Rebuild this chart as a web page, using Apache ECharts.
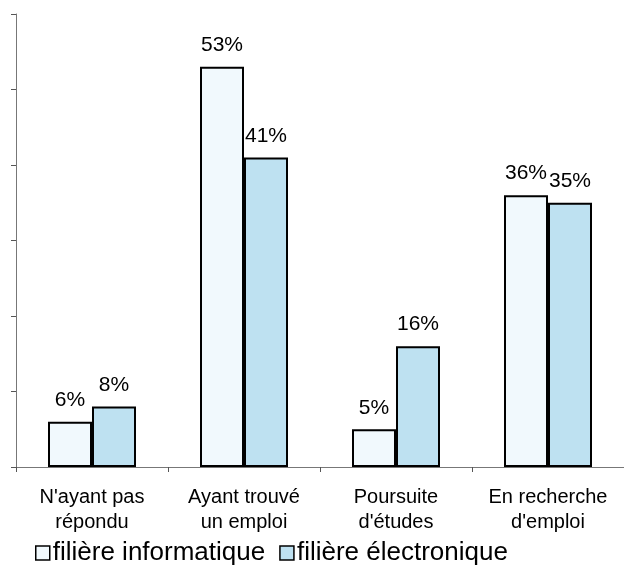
<!DOCTYPE html>
<html>
<head>
<meta charset="utf-8">
<script src="https://cdn.jsdelivr.net/npm/echarts@6/dist/echarts.min.js"></script>
<style>html,body{margin:0;padding:0;background:#fff;}#c{width:624px;height:569px;}</style>
</head>
<body>
<div id="c"></div>
<script>
const categories = ["N'ayant pas\nrépondu", "Ayant trouvé\nun emploi", "Poursuite\nd'études", "En recherche\nd'emploi"];
const seriesNames = ["filière informatique", "filière électronique"];
const informatique = [6, 53, 5, 36];
const electronique = [8, 41, 16, 35];
const yTicks = [0, 10, 20, 30, 40, 50, 60];

const font = "'Liberation Sans', Arial, sans-serif";
const chart = echarts.init(document.getElementById('c'));
const labelCfg = {show: true, position: 'top', distance: 11, fontSize: 21, color: '#000', fontFamily: font, formatter: '{c}%'};
chart.setOption({
  animation: false,
  grid: {left: 16, width: 614, top: 14, height: 453, containLabel: false},
  legend: {
    data: seriesNames, left: 30, top: 535, icon: 'rect', itemWidth: 14, itemHeight: 14, itemGap: 14,
    textStyle: {fontSize: 26, color: '#000', fontFamily: font, padding: [0, 0, 0, -2]},
    itemStyle: {borderColor: '#000', borderWidth: 1.5}
  },
  xAxis: {
    type: 'category', data: categories,
    axisLine: {lineStyle: {color: '#777', width: 1}},
    axisTick: {show: true, length: 5, lineStyle: {color: '#555'}},
    axisLabel: {fontSize: 20, lineHeight: 25, color: '#000', fontFamily: font, margin: 18, interval: 0}
  },
  yAxis: {
    type: 'value', min: yTicks[0], max: yTicks[yTicks.length - 1], interval: 10,
    axisLine: {show: true, lineStyle: {color: '#777', width: 1}},
    axisTick: {show: true, length: 5, lineStyle: {color: '#555'}},
    axisLabel: {show: false},
    splitLine: {show: false}
  },
  series: [
    {name: seriesNames[0], type: 'bar', data: informatique, barWidth: 44, barGap: '0%',
     itemStyle: {color: '#F1F9FD', borderColor: '#000', borderWidth: 2}, label: labelCfg},
    {name: seriesNames[1], type: 'bar', data: electronique, barWidth: 44, barGap: '0%',
     itemStyle: {color: '#BEE1F1', borderColor: '#000', borderWidth: 2}, label: labelCfg}
  ]
});
</script>
</body>
</html>
